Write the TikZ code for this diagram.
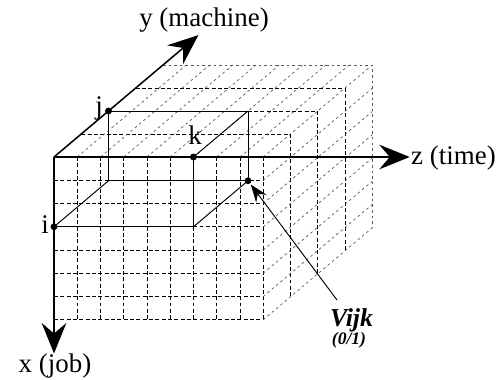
\documentclass[tikz,border=0pt]{standalone}
\usepackage{fontspec}
\setmainfont{Liberation Serif}
\usetikzlibrary{arrows.meta}

\begin{document}
\begin{tikzpicture}[
    x={(0cm,-0.6975cm)}, y={(0.8175cm,0.69cm)}, z={(0.6975cm,0cm)},
    griddash/.style={line width=0.8pt, dash pattern=on 3.4pt off 2pt},
    backdash/.style={line width=0.6pt, black!65, dash pattern=on 2.2pt off 2.6pt},
    axis/.style={line width=1.6pt, -{Stealth[length=26pt, width=21pt, inset=9pt]}},
    edge/.style={line width=0.8pt},
    lbl/.style={font=\fontsize{23}{27}\selectfont, inner sep=0pt}]
    % 3D coordinates (x,y,z): x = job (down), y = machine (oblique), z = time (right)
    % one grid cell = 1 unit; the block is 7 x 4 x 9 cells
    \useasboundingbox (-1.62cm,-6.69cm) rectangle (13.5cm,4.71cm);

    % Front face (y = 0)
    \foreach \r in {1,...,7} \draw[griddash] (\r,0,0) -- (\r,0,9);
    \foreach \c in {1,...,9} \draw[griddash] (0,0,\c) -- (7,0,\c);

    % Top face (x = 0)
    \foreach \d in {1,2,3} \draw[griddash] (0,\d,0) -- (0,\d,9);
    \foreach \c in {1,...,9} \draw[backdash] (0,0,\c) -- (0,4,\c);

    % Right face (z = 9)
    \foreach \d in {1,2,3} \draw[griddash] (0,\d,9) -- (7,\d,9);
    \foreach \r in {1,...,7} \draw[backdash] (\r,0,9) -- (\r,4,9);

    % Back edges
    \draw[backdash] (0,4,0) -- (0,4,9) -- (7,4,9);

    % Corners of the sub-block i x j x k
    \coordinate (O) at (0,0,0);
    \coordinate (I) at (3,0,0);
    \coordinate (J) at (0,2,0);
    \coordinate (K) at (0,0,6);
    \coordinate (IJ) at (3,2,0);
    \coordinate (IK) at (3,0,6);
    \coordinate (JK) at (0,2,6);
    \coordinate (V) at (3,2,6);

    \draw[edge] (I) -- (IK) -- (K);
    \draw[edge] (J) -- (JK) -- (V);
    \draw[edge] (J) -- (IJ) -- (V);
    \draw[edge] (I) -- (IJ);
    \draw[edge] (IK) -- (V);
    \draw[edge] (K) -- (JK);

    % Axes
    \coordinate (xend) at (8.45,0,0);
    \coordinate (yend) at (0,5.3,0);
    \coordinate (zend) at (0,0,15.3);
    \draw[axis] (O) -- (xend);
    \draw[axis, line width=1.3pt] (O) -- (yend);
    \draw[axis] (O) -- (zend);

    \node[lbl, anchor=base] (xlab) at (0.03cm,-6.45cm) {x (job)};
    \node[lbl, anchor=base] (ylab) at (4.5cm,3.9cm) {y (machine)};
    \node[lbl, anchor=base west] (zlab) at (10.71cm,-0.24cm) {z (time)};

    % Index points
    \filldraw (I) circle (2.7pt);
    \filldraw (J) circle (2.7pt);
    \filldraw (K) circle (2.7pt);
    \filldraw (V) circle (2.7pt);
    \node[lbl, anchor=base east] (ilab) at (-0.15cm,-2.28cm) {i};
    \node[lbl, anchor=base east] (jlab) at (1.47cm,1.26cm) {j};
    \node[lbl, anchor=base] (klab) at (4.23cm,0.36cm) {k};

    % Decision variable
    \node[lbl, anchor=base, font=\fontsize{22}{26}\selectfont\bfseries\itshape] (vlab) at (8.925cm,-5.07cm) {Vijk};
    \node[lbl, anchor=base, font=\fontsize{15}{17}\selectfont\bfseries\itshape] (vval) at (8.85cm,-5.63cm) {(0/1)};
    \coordinate (vtail) at (8.49cm,-4.29cm);
    \draw[edge, -{Stealth[length=15pt, width=11pt, inset=5pt]}, shorten >=4pt] (vtail) -- (V);
\end{tikzpicture}
\end{document}
